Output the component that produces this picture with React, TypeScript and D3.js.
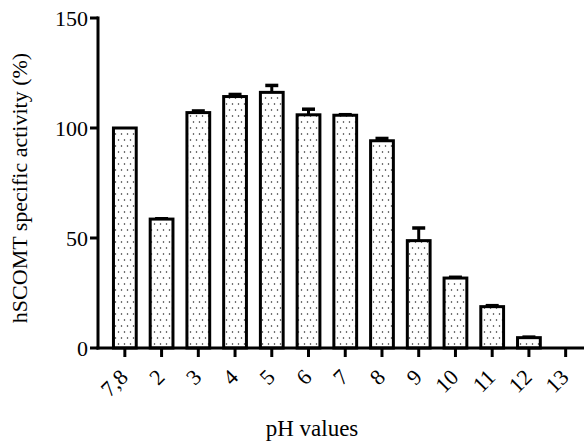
import React, { useEffect, useRef } from 'react';
import * as d3 from 'd3';

const width = 584,
      height = 444;

const categories = ['7,8', '2', '3', '4', '5', '6', '7', '8', '9', '10', '11', '12', '13'];
const activity = [100, 58.6, 107, 114.3, 116.2, 106, 105.8, 94.2, 48.8, 31.8, 18.8, 4.7, 0];
const errors = [0, 0.6, 1.2, 1.4, 3.6, 3, 0.7, 1.5, 6.2, 0.8, 0.9, 0.7, 0];
const yTicks = [0, 50, 100, 150];

const App = () => {
    const ref = useRef<SVGSVGElement>(null);

    useEffect(() => {
        const svg = d3.select(ref.current);
        svg.html('');

        const x = d3.scaleBand().domain(categories).range([99.5, 591]).padding(0.38);
        const y = d3.scaleLinear().domain([0, 150]).range([348, 18]);
        const axisX = 98;
        const font = "'Liberation Serif', Tinos, 'Times New Roman', 'DejaVu Serif', serif";

        // dotted fill
        const pat = svg.append('defs').append('pattern')
            .attr('id', 'dots')
            .attr('patternUnits', 'userSpaceOnUse')
            .attr('width', 6).attr('height', 12);
        pat.append('rect').attr('width', 6).attr('height', 12).attr('fill', '#fff');
        pat.append('circle').attr('cx', 1.5).attr('cy', 2).attr('r', 0.75).attr('fill', '#222');
        pat.append('circle').attr('cx', 4.5).attr('cy', 8).attr('r', 0.75).attr('fill', '#222');

        const data = categories.map((c, i) => ({ c, v: activity[i], e: errors[i] }));

        // error bars (upper only)
        const eb = svg.selectAll('.err').data(data.filter(d => d.v > 0)).enter().append('g');
        eb.append('line')
            .attr('x1', d => x(d.c)! + x.bandwidth() / 2)
            .attr('x2', d => x(d.c)! + x.bandwidth() / 2)
            .attr('y1', d => y(d.v))
            .attr('y2', d => y(d.v + d.e))
            .attr('stroke', '#000').attr('stroke-width', 3);
        eb.append('line')
            .attr('x1', d => x(d.c)! + x.bandwidth() / 2 - 6.5)
            .attr('x2', d => x(d.c)! + x.bandwidth() / 2 + 6.5)
            .attr('y1', d => y(d.v + d.e) + 1)
            .attr('y2', d => y(d.v + d.e) + 1)
            .attr('stroke', '#000').attr('stroke-width', 3.5);

        svg.selectAll('.bar').data(data.filter(d => d.v > 0)).enter().append('rect')
            .attr('x', d => x(d.c)!)
            .attr('y', d => y(d.v))
            .attr('width', x.bandwidth())
            .attr('height', d => y(0) - y(d.v))
            .attr('fill', 'url(#dots)')
            .attr('stroke', '#000')
            .attr('stroke-width', 3);

        // y axis
        svg.append('line')
            .attr('x1', axisX).attr('x2', axisX)
            .attr('y1', y(150) - 1.5).attr('y2', y(0) + 1.5)
            .attr('stroke', '#000').attr('stroke-width', 3);
        const yt = svg.selectAll('.yt').data(yTicks).enter().append('g');
        yt.append('line')
            .attr('x1', axisX - 8).attr('x2', axisX)
            .attr('y1', d => y(d)).attr('y2', d => y(d))
            .attr('stroke', '#000').attr('stroke-width', 3);
        yt.append('text')
            .attr('x', axisX - 10).attr('y', d => y(d))
            .attr('dy', '0.35em')
            .attr('text-anchor', 'end')
            .style('font-family', font).style('font-size', '22px')
            .text(d => d);

        // x axis
        svg.append('line')
            .attr('x1', axisX - 1.5).attr('x2', width)
            .attr('y1', y(0)).attr('y2', y(0))
            .attr('stroke', '#000').attr('stroke-width', 3);
        const xt = svg.selectAll('.xt').data(categories).enter().append('g');
        xt.append('line')
            .attr('x1', d => x(d)! + x.bandwidth() / 2)
            .attr('x2', d => x(d)! + x.bandwidth() / 2)
            .attr('y1', y(0)).attr('y2', y(0) + 9)
            .attr('stroke', '#000').attr('stroke-width', 3);
        xt.append('text')
            .attr('transform', d => `translate(${x(d)! + x.bandwidth() / 2 - 1},${y(0) + 25}) rotate(-45)`)
            .attr('text-anchor', 'end')
            .attr('dy', '0.35em')
            .style('font-family', font).style('font-size', '22px')
            .text(d => d);

        // titles
        svg.append('text')
            .attr('transform', `translate(27,${(y(0) + y(150)) / 2 + 5}) rotate(-90)`)
            .attr('text-anchor', 'middle')
            .style('font-family', font).style('font-size', '22px')
            .text('hSCOMT specific activity (%)');
        svg.append('text')
            .attr('x', 312).attr('y', 436)
            .attr('text-anchor', 'middle')
            .style('font-family', font).style('font-size', '23px')
            .text('pH values');
    }, []);

    return (
        <svg ref={ref} width={width} height={height}
             style={{ position: 'absolute', left: 0, top: 0, background: '#fff' }} />
    );
};

export default App;
